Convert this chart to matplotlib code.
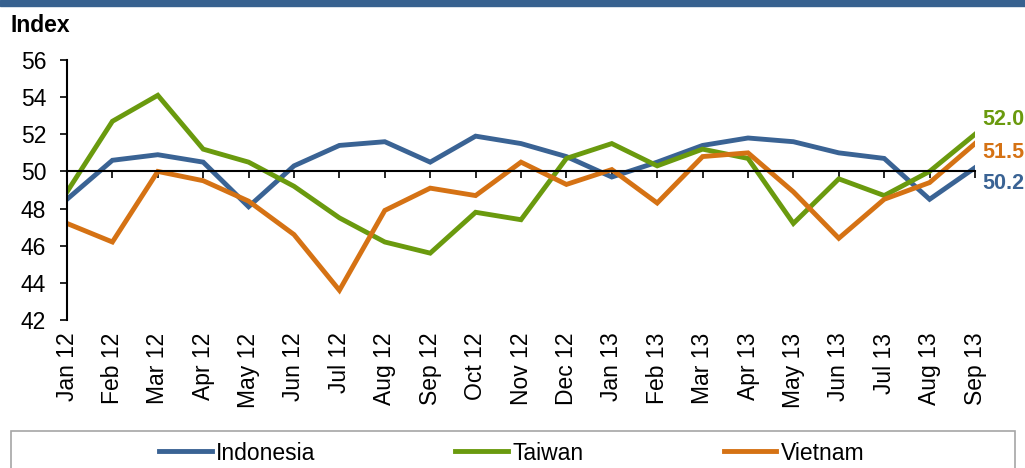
import numpy as np
import matplotlib.pyplot as plt
from matplotlib.patches import Rectangle

plt.rcParams['font.family'] = ['Liberation Sans', 'DejaVu Sans']

#%% data
months = ['Jan 12', 'Feb 12', 'Mar 12', 'Apr 12', 'May 12', 'Jun 12', 'Jul 12',
          'Aug 12', 'Sep 12', 'Oct 12', 'Nov 12', 'Dec 12', 'Jan 13', 'Feb 13',
          'Mar 13', 'Apr 13', 'May 13', 'Jun 13', 'Jul 13', 'Aug 13', 'Sep 13']
indonesia = [48.5, 50.6, 50.9, 50.5, 48.1, 50.3, 51.4, 51.6, 50.5, 51.9, 51.5,
             50.8, 49.7, 50.5, 51.4, 51.8, 51.6, 51.0, 50.7, 48.5, 50.2]
taiwan = [48.9, 52.7, 54.1, 51.2, 50.5, 49.2, 47.5, 46.2, 45.6, 47.8, 47.4,
          50.7, 51.5, 50.3, 51.2, 50.7, 47.2, 49.6, 48.7, 50.0, 52.0]
vietnam = [47.2, 46.2, 50.0, 49.5, 48.4, 46.6, 43.6, 47.9, 49.1, 48.7, 50.5,
           49.3, 50.1, 48.3, 50.8, 51.0, 48.9, 46.4, 48.5, 49.4, 51.5]

c_ind = '#3a6394'
c_tw = '#6a9a0e'
c_vn = '#d57214'
fs = 16.5

x = np.arange(len(months))

#%% figure
fig = plt.figure(figsize=(10.25, 4.68), dpi=100)
ax = fig.add_axes([67/1025, 1-320/468, (975-67)/1025, 260/468])

ax.plot(x, indonesia, color=c_ind, lw=3.5, label='Indonesia', solid_joinstyle='miter')
ax.plot(x, taiwan, color=c_tw, lw=3.5, label='Taiwan', solid_joinstyle='miter')
ax.plot(x, vietnam, color=c_vn, lw=3.5, label='Vietnam', solid_joinstyle='miter')

ax.set_xlim(0, len(months)-1)
ax.set_ylim(42, 56)
ax.set_yticks(np.arange(42, 57, 2))
ax.tick_params(axis='y', direction='out', length=5, width=1.2, pad=10,
               labelsize=fs)

# horizontal axis crosses at 50, labels stay at the bottom
for s in ['top', 'right']:
    ax.spines[s].set_visible(False)
ax.spines['left'].set_linewidth(1.5)
ax.spines['bottom'].set_position(('data', 50))
ax.spines['bottom'].set_linewidth(1.5)
ax.set_xticks(x)
ax.tick_params(axis='x', direction='out', length=5, width=1.2, labelbottom=False)

sec = ax.secondary_xaxis('bottom')
sec.set_xticks(x)
sec.set_xticklabels(months, rotation=90, fontsize=fs)
sec.tick_params(length=0, pad=9)
sec.spines['bottom'].set_visible(False)

# end labels
ax.annotate('%.1f' % taiwan[-1], (x[-1], taiwan[-1]), xytext=(5, 11),
            textcoords='offset points', color=c_tw, fontsize=15.5,
            fontweight='bold', va='center', ha='left', annotation_clip=False)
ax.annotate('%.1f' % vietnam[-1], (x[-1], vietnam[-1]), xytext=(5, -6.5),
            textcoords='offset points', color=c_vn, fontsize=15.5,
            fontweight='bold', va='center', ha='left', annotation_clip=False)
ax.annotate('%.1f' % indonesia[-1], (x[-1], indonesia[-1]), xytext=(5, -11.5),
            textcoords='offset points', color=c_ind, fontsize=15.5,
            fontweight='bold', va='center', ha='left', annotation_clip=False)

fig.text(11/1025, 1-25/468, 'Index', fontsize=fs, fontweight='bold',
         va='center', ha='left')

# top banner
fig.patches.append(Rectangle((0, 1-6/468), 1, 6/468, transform=fig.transFigure,
                             color='#37618f', zorder=0))

# legend box
fig.patches.append(Rectangle((11/1025, -0.02), (1015-11)/1025, 0.02+(468-431)/468,
                             transform=fig.transFigure, facecolor='white',
                             edgecolor='#a6a6a6', lw=1.2, zorder=0))
fig.legend(loc='center left', bbox_to_anchor=(159/1025, 1-453/468), ncol=3,
           frameon=False, fontsize=fs, handlelength=2.3, handletextpad=0.2,
           columnspacing=6.1, borderaxespad=0, borderpad=0)

fig.savefig('out.png', dpi=100)
